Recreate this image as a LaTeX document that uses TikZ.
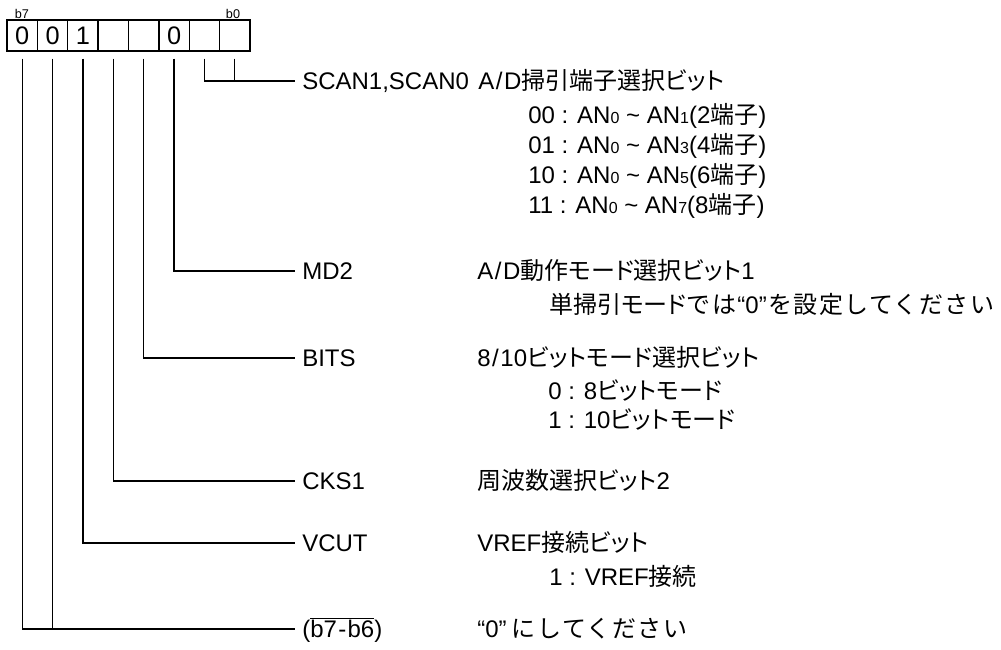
\documentclass[tikz,border=0pt]{standalone}
\usepackage{fontspec}
\setmainfont{Liberation Sans}
\newfontfamily\jk[RawFeature=+palt]{Noto Sans CJK JP}
\newfontfamily\jf{Noto Sans CJK JP}
\newfontfamily\jh[LetterSpace=6]{Noto Sans CJK JP}
\newcommand{\kt}[1]{{\jk #1}}
\newcommand{\jt}[1]{{\jf #1}}
\newcommand{\hira}[1]{{\jh #1}}
\newcommand{\sbn}[1]{{\fontsize{12}{12}\selectfont #1}}
\newcommand{\slh}{\kern1.2pt/\kern1.2pt}
\begin{document}
\begin{tikzpicture}[x=0.75pt,y=-0.75pt,
  wire/.style={line width=1pt},
  cell/.style={draw,line width=1pt,minimum width=22.78pt,minimum height=23.25pt,inner sep=0pt,font=\fontsize{19}{19}\selectfont},
  bitlbl/.style={inner sep=0pt,anchor=base,font=\fontsize{9.5}{9.5}\selectfont},
  lbl/.style={anchor=west,inner xsep=5.25pt,inner ysep=0pt,text height=12.9pt,text depth=0pt,font=\fontsize{18}{22}\selectfont},
  desc/.style={anchor=west,inner sep=0pt,text height=12.9pt,text depth=0pt,font=\fontsize{18}{22}\selectfont}]
\useasboundingbox (0,0) rectangle (1001,650);
% register cells b7..b0
\foreach \v [count=\i from 0] in {0,0,1,{},{},0,{},{}}{
  \pgfmathtruncatemacro{\b}{7-\i}
  \node[cell] (c\b) at ({7+30.375*(\i+0.5)},35.5) {\v};
}
\node[bitlbl] (lb7) at (22,18) {b7};
\node[bitlbl] (lb0) at (233,18) {b0};
% labels
\node[lbl] (scan) at (295,81) {SCAN1,SCAN0\hspace{2pt} A\slh D\jt{掃引端子選択}\kt{ビット}};
\node[desc] (s00) at (528,115) {00 : AN\sbn{0} \textasciitilde{} AN\sbn{1}(2\jt{端子})};
\node[desc] (s01) at (528,145) {01 : AN\sbn{0} \textasciitilde{} AN\sbn{3}(4\jt{端子})};
\node[desc] (s10) at (528,175) {10 : AN\sbn{0} \textasciitilde{} AN\sbn{5}(6\jt{端子})};
\node[desc] (s11) at (528,205) {11 : AN\sbn{0} \textasciitilde{} AN\sbn{7}(8\jt{端子})};

\node[lbl] (md2) at (295,271) {MD2};
\node[desc] (dmd2) at (477,271) {A\slh D\jt{動作}\kt{モード}\jt{選択}\kt{ビット}1};
\node[desc] (dmd2b) at (549,305) {\jt{単掃引}\kt{モード}\hira{では}\kern1pt“0”\kern1pt\hira{を設定してください}};

\node[lbl] (bits) at (295,358) {BITS};
\node[desc] (dbits) at (477,358) {8\slh 10\kt{ビットモード}\jt{選択}\kt{ビット}};
\node[desc] (dbits0) at (548,391) {0 : 8\kt{ビットモード}};
\node[desc] (dbits1) at (548,420) {1 : 10\kt{ビットモード}};

\node[lbl] (cks) at (295,481) {CKS1};
\node[desc] (dcks) at (477,481) {\jt{周波数選択}\kt{ビット}2};

\node[lbl] (vcut) at (295,543) {VCUT};
\node[desc] (dvcut) at (477,543) {VREF\jt{接続}\kt{ビット}};
\node[desc] (dvcut1) at (549,577) {1 : VREF\jt{接続}};

\node[lbl] (b76) at (295,629) {($\overline{\mbox{b7\kern1pt-\kern1pt b6}}$)};
\node[desc] (db76) at (477,629) {“0”\kern4pt\hira{にしてください}};
% connectors
\draw[wire] ([yshift=-5.25pt]c1.south) |- (scan.west);
\draw[wire] ([yshift=-5.25pt]c0.south) -- (c0.south |- scan.west);
\draw[wire] ([yshift=-5.25pt]c2.south) |- (md2.west);
\draw[wire] ([yshift=-5.25pt]c3.south) |- (bits.west);
\draw[wire] ([yshift=-5.25pt]c4.south) |- (cks.west);
\draw[wire] ([yshift=-5.25pt]c5.south) |- (vcut.west);
\draw[wire] ([yshift=-5.25pt]c7.south) |- (b76.west);
\draw[wire] ([yshift=-5.25pt]c6.south) -- (c6.south |- b76.west);
\end{tikzpicture}
\end{document}
